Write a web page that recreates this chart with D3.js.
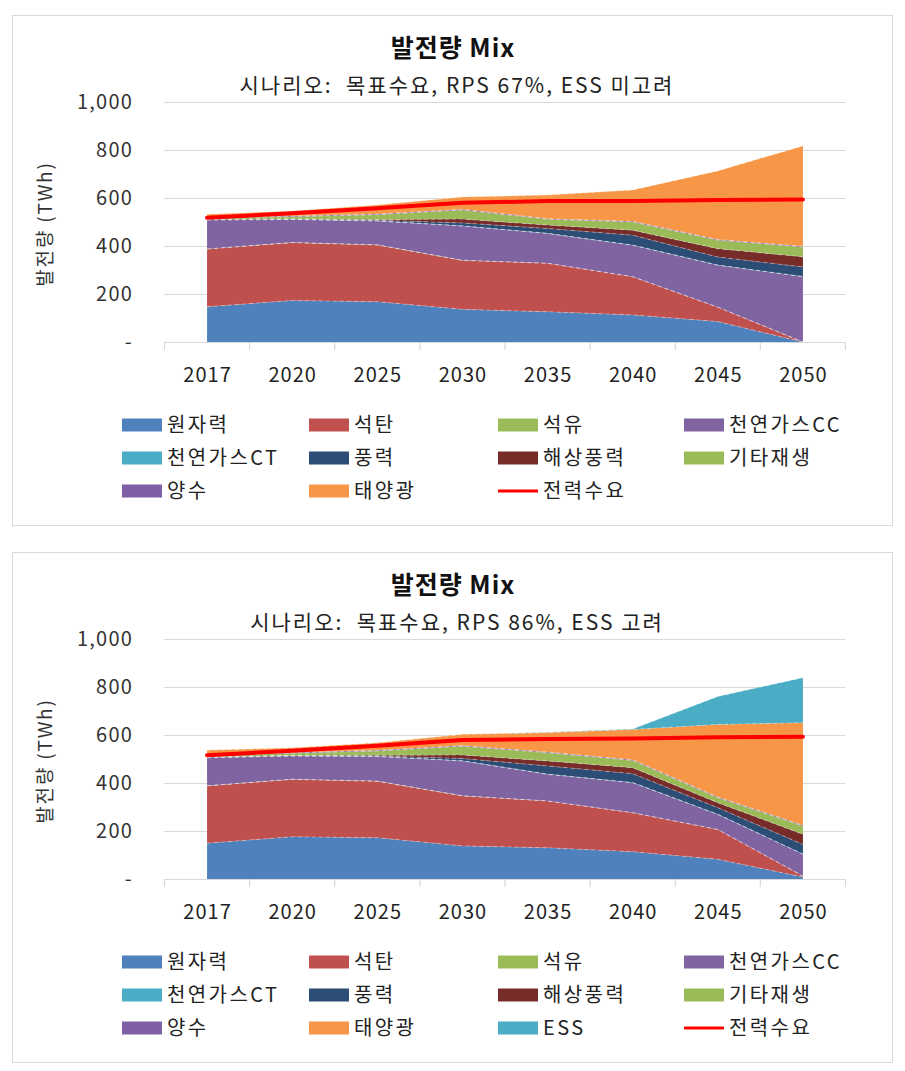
<!DOCTYPE html>
<html>
<head>
<meta charset="utf-8">
<script src="https://cdn.jsdelivr.net/npm/d3@7"></script>
<style>
  html, body { margin: 0; padding: 0; background: #ffffff; }
  svg text { font-family: "Noto Sans CJK KR", "Noto Sans", sans-serif; fill: #222; white-space: pre; }
</style>
</head>
<body>
<svg id="chart" width="905" height="1071"></svg>
<script>
// ---------- DATA ----------
const years = ["2017", "2020", "2025", "2030", "2035", "2040", "2045", "2050"];
const yTicks = [0, 200, 400, 600, 800, 1000];

// Chart 1: 시나리오: 목표수요, RPS 67%, ESS 미고려  (TWh)
const nuclear1  = [147, 173, 168, 136, 126, 113, 85, 0];
const coal1     = [240, 241, 236, 204, 202, 159, 60, 0];
const oil1      = [1, 1, 1, 1, 0, 0, 0, 0];
const gasCC1    = [120, 95, 99, 142, 124, 131, 175, 272];
const gasCT1    = [1, 1, 1, 1, 1, 1, 1, 1];
const wind1     = [1, 1, 2, 12, 20, 41, 33, 40];
const offshore1 = [1, 1, 3, 16, 14, 21, 35, 42];
const otherRe1  = [5, 9, 20, 38, 24, 34, 35, 41];
const pumped1   = [3, 3, 3, 3, 3, 3, 3, 3];
const solar1    = [13, 21, 38, 51, 98, 130, 286, 418];
const demand1   = [518, 536, 557, 580, 587, 588, 592, 594];

// Chart 2: 시나리오: 목표수요, RPS 86%, ESS 고려  (TWh)
const nuclear2  = [149, 176, 172, 138, 130, 114, 82, 8];
const coal2     = [239, 239, 235, 208, 195, 162, 124, 4];
const oil2      = [1, 1, 1, 1, 0, 0, 0, 0];
const gasCC2    = [116, 96, 102, 145, 111, 125, 63, 91];
const gasCT2    = [1, 1, 1, 1, 1, 1, 1, 1];
const wind2     = [1, 1, 2, 9, 34, 37, 27, 40];
const offshore2 = [1, 1, 3, 15, 21, 25, 21, 42];
const otherRe2  = [6, 9, 17, 36, 34, 30, 21, 35];
const pumped2   = [3, 3, 3, 3, 3, 3, 3, 3];
const solar2    = [20, 20, 32, 47, 81, 126, 302, 427];
const ess2      = [0, 0, 0, 0, 1, 2, 116, 188];
const demand2   = [516, 534, 555, 579, 583, 585, 591, 593];

const seriesNames = ["원자력", "석탄", "석유", "천연가스CC", "천연가스CT", "풍력", "해상풍력", "기타재생", "양수", "태양광", "ESS"];
const seriesColors = {
  "원자력": "#4F81BD", "석탄": "#C0504D", "석유": "#9BBB59", "천연가스CC": "#8064A2",
  "천연가스CT": "#4BACC6", "풍력": "#2C4D75", "해상풍력": "#772C2A", "기타재생": "#9BBB59",
  "양수": "#7F60A6", "태양광": "#F79646", "ESS": "#4BACC6"
};
const demandName = "전력수요";
const demandColor = "#FF0000";

// ---------- DRAW ----------
const svg = d3.select("#chart");

function drawChart(cfg) {
  const oy = cfg.offsetY;
  const g = svg.append("g").attr("transform", `translate(0,${oy})`);

  // frame
  g.append("rect").attr("x", 12.5).attr("y", 15.5).attr("width", 880).attr("height", 510)
    .attr("fill", "#fff").attr("stroke", "#d9d9d9").attr("stroke-width", 1);

  // titles
  g.append("text").attr("x", 453).attr("y", 57).attr("text-anchor", "middle")
    .style("font-size", "25px").style("font-weight", "bold").style("letter-spacing", "1px")
    .style("fill", "#111").text("발전량 Mix");
  g.append("text").attr("x", 457).attr("y", 93).attr("text-anchor", "middle")
    .style("font-size", "21px").style("letter-spacing", "2px").style("fill", "#222").text(cfg.subtitle);

  const left = 164.5, right = 845.5, top = 102, bottom = 342;
  const x = d3.scalePoint().domain(years).range([left, right]).padding(0.5);
  const y = d3.scaleLinear().domain([0, 1000]).range([bottom, top]);
  const step = x.step();

  // gridlines
  g.append("g").selectAll("line").data(yTicks.filter(d => d > 0)).join("line")
    .attr("x1", left).attr("x2", right).attr("y1", d => y(d) + 0.5).attr("y2", d => y(d) + 0.5)
    .attr("stroke", "#d9d9d9").attr("stroke-width", 1.2);

  // y labels
  g.append("g").selectAll("text").data(yTicks).join("text")
    .attr("x", 133).attr("y", d => y(d)).attr("dy", "0.35em").attr("text-anchor", "end")
    .style("font-size", "20px").style("letter-spacing", "1.2px").style("fill", "#333")
    .text(d => d === 0 ? "-" : d3.format(",")(d));

  // y title
  g.append("text").attr("transform", `translate(52,${(top + bottom) / 2 + 2}) rotate(-90)`)
    .attr("text-anchor", "middle").style("font-size", "19px").style("letter-spacing", "1.8px")
    .style("fill", "#333").text("발전량 (TWh)");

  // stacked areas
  const rows = years.map((yr, i) => {
    const r = { year: yr };
    cfg.keys.forEach(k => { r[k] = cfg.values[k][i]; });
    return r;
  });
  const stack = d3.stack().keys(cfg.keys)(rows);
  const area = d3.area().x(d => x(d.data.year)).y0(d => y(d[0])).y1(d => y(d[1])).curve(d3.curveLinear);
  const topLine = d3.line().x(d => x(d.data.year)).y(d => y(d[1])).curve(d3.curveLinear);

  g.append("g").selectAll("path").data(stack).join("path")
    .attr("d", area).attr("fill", d => seriesColors[d.key]);
  g.append("g").selectAll("path").data(stack).join("path")
    .attr("d", topLine).attr("fill", "none").attr("stroke", "rgba(255,255,255,0.35)")
    .attr("stroke-width", 1).attr("stroke-dasharray", "4,3");

  // x axis
  g.append("line").attr("x1", left).attr("x2", right).attr("y1", bottom + 0.5).attr("y2", bottom + 0.5)
    .attr("stroke", "#d9d9d9").attr("stroke-width", 1.2);
  const bounds = d3.range(years.length + 1).map(i => left + i * step);
  g.append("g").selectAll("line").data(bounds).join("line")
    .attr("x1", d => d).attr("x2", d => d).attr("y1", bottom).attr("y2", bottom + 8)
    .attr("stroke", "#d9d9d9").attr("stroke-width", 1.2);
  g.append("g").selectAll("text").data(years).join("text")
    .attr("x", d => x(d) + 0.5).attr("y", 382).attr("text-anchor", "middle")
    .style("font-size", "20px").style("letter-spacing", "1px").style("fill", "#222").text(d => d);

  // demand line
  g.append("path").datum(cfg.demand)
    .attr("d", d3.line().x((d, i) => x(years[i])).y(d => y(d)))
    .attr("fill", "none").attr("stroke", demandColor).attr("stroke-width", 4).attr("stroke-linecap", "round");

  // legend
  const colX = [122, 309, 498, 684];
  const rowY = [425, 458, 491];
  const items = cfg.keys.map(k => ({ name: k, type: "area" })).concat([{ name: demandName, type: "line" }]);
  items.forEach((it, i) => {
    const cx = colX[i % 4], cy = rowY[Math.floor(i / 4)];
    if (it.type === "area") {
      g.append("rect").attr("x", cx).attr("y", cy - 6.5).attr("width", 40).attr("height", 13)
        .attr("fill", seriesColors[it.name]);
    } else {
      g.append("line").attr("x1", cx).attr("x2", cx + 40).attr("y1", cy).attr("y2", cy)
        .attr("stroke", demandColor).attr("stroke-width", 3);
    }
    g.append("text").attr("x", cx + 45).attr("y", cy).attr("dy", "0.36em")
      .style("font-size", "20px").style("letter-spacing", "2.4px").style("fill", "#222").text(it.name);
  });
}

const keys1 = seriesNames.slice(0, 10);
drawChart({
  offsetY: 0,
  subtitle: "시나리오:  목표수요, RPS 67%, ESS 미고려",
  keys: keys1,
  values: {
    "원자력": nuclear1, "석탄": coal1, "석유": oil1, "천연가스CC": gasCC1, "천연가스CT": gasCT1,
    "풍력": wind1, "해상풍력": offshore1, "기타재생": otherRe1, "양수": pumped1, "태양광": solar1
  },
  demand: demand1
});

drawChart({
  offsetY: 537,
  subtitle: "시나리오:  목표수요, RPS 86%, ESS 고려",
  keys: seriesNames,
  values: {
    "원자력": nuclear2, "석탄": coal2, "석유": oil2, "천연가스CC": gasCC2, "천연가스CT": gasCT2,
    "풍력": wind2, "해상풍력": offshore2, "기타재생": otherRe2, "양수": pumped2, "태양광": solar2, "ESS": ess2
  },
  demand: demand2
});
</script>
</body>
</html>
